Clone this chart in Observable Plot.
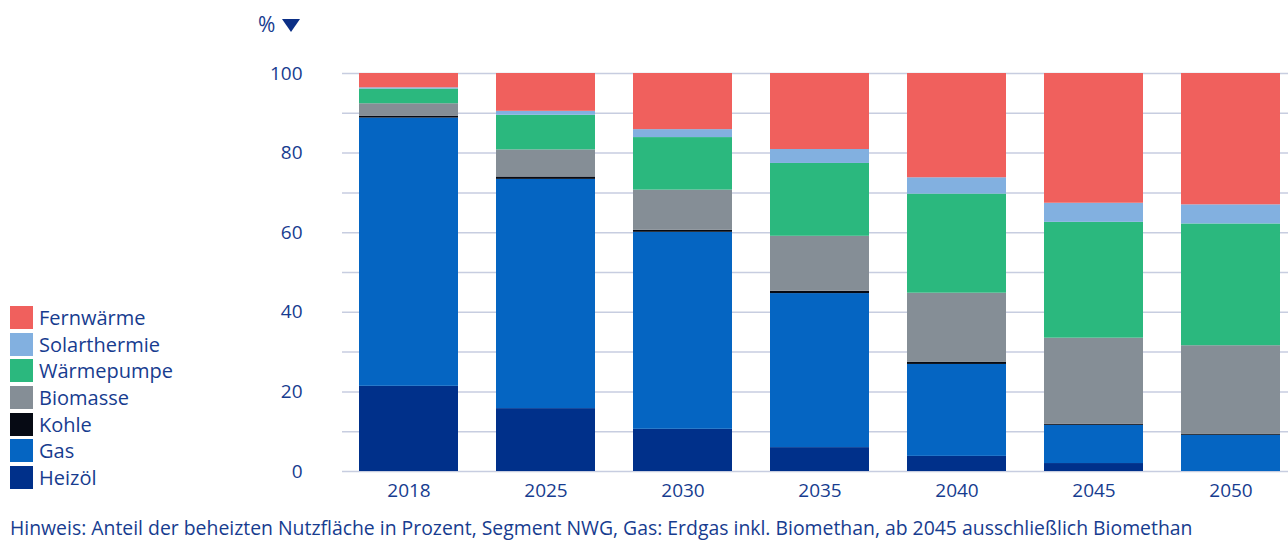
<!DOCTYPE html>
<html>
<head>
<meta charset="utf-8">
<script src="https://cdn.jsdelivr.net/npm/d3@7"></script>
<script src="https://cdn.jsdelivr.net/npm/@observablehq/plot@0.6"></script>
<style>
  html, body { margin: 0; padding: 0; background: #fff; }
  body { font-family: "Open Sans", sans-serif; color: #173c8f; }
  #wrap { position: relative; width: 1288px; height: 542px; overflow: hidden; }
  #unit { position: absolute; left: 258px; top: 10px; font-size: 21px; line-height: 28px; display: flex; align-items: center; }
  #tri { width: 0; height: 0; border-left: 9px solid transparent; border-right: 9px solid transparent; border-top: 13px solid #0b2f86; margin-left: 7px; margin-top: 2px; }
  #legend { position: absolute; left: 10px; top: 304px; font-size: 20px; }
  .row { display: flex; align-items: center; height: 26.7px; }
  .sw { width: 23px; height: 23px; margin-right: 6px; }
  #note { position: absolute; left: 10px; top: 515px; font-size: 19.4px; line-height: 26px; white-space: nowrap; }
  #chart { position: absolute; left: 0; top: 0; }
</style>
</head>
<body>
<div id="wrap">
  <div id="chart"></div>
  <div id="unit"><span>%</span><div id="tri"></div></div>
  <div id="legend"></div>
  <div id="note">Hinweis: Anteil der beheizten Nutzfläche in Prozent, Segment NWG, Gas: Erdgas inkl. Biomethan, ab 2045 ausschließlich Biomethan</div>
</div>
<script>
const years = ["2018", "2025", "2030", "2035", "2040", "2045", "2050"];
const seriesNames = ["Heizöl", "Gas", "Kohle", "Biomasse", "Wärmepumpe", "Solarthermie", "Fernwärme"];
const seriesColors = ["#00308a", "#0565c2", "#060a14", "#858e96", "#2bb87e", "#82b0e0", "#f0605d"];
const heizoel      = [21.4, 15.8, 10.6, 6.0, 3.8, 2.0, 0.0];
const gas          = [67.4, 57.6, 49.5, 38.7, 23.1, 9.6, 9.1];
const kohle        = [0.5, 0.6, 0.5, 0.6, 0.5, 0.3, 0.3];
const biomasse     = [3.1, 6.8, 10.1, 13.8, 17.4, 21.6, 22.2];
const waermepumpe  = [3.7, 8.7, 13.2, 18.3, 24.9, 29.1, 30.6];
const solarthermie = [0.3, 1.0, 2.0, 3.5, 4.1, 4.8, 4.8];
const fernwaerme   = [3.6, 9.5, 14.1, 19.1, 26.2, 32.6, 33.0];
const yTicks = [0, 20, 40, 60, 80, 100];
const gridTicks = [0, 10, 20, 30, 40, 50, 60, 70, 80, 90, 100];

const seriesValues = [heizoel, gas, kohle, biomasse, waermepumpe, solarthermie, fernwaerme];
const data = [];
seriesNames.forEach((s, i) => {
  years.forEach((y, j) => data.push({year: y, series: s, value: seriesValues[i][j]}));
});

const textColor = "#173c8f";
const chart = Plot.plot({
  width: 1288,
  height: 510,
  marginLeft: 342,
  marginRight: 0,
  marginTop: 73,
  marginBottom: 39,
  style: {fontFamily: "Open Sans, sans-serif", fontSize: "19px", color: textColor, background: "transparent"},
  x: {domain: years, paddingInner: 0.279, paddingOuter: 0.086, align: 0.68, label: null},
  y: {domain: [0, 100], label: null},
  color: {domain: seriesNames, range: seriesColors},
  marks: [
    Plot.ruleY(gridTicks, {stroke: "#c7cde0", strokeWidth: 1.5}),
    Plot.barY(data, {x: "year", y: "value", fill: "series", order: seriesNames}),
    Plot.axisY({ticks: yTicks, tickSize: 0, tickPadding: 40, fontSize: 19, label: null, fill: textColor}),
    Plot.axisX({tickSize: 0, tickPadding: 12, fontSize: 19, label: null, fill: textColor})
  ]
});
document.getElementById("chart").appendChild(chart);

const legend = document.getElementById("legend");
for (let i = seriesNames.length - 1; i >= 0; i--) {
  const row = document.createElement("div");
  row.className = "row";
  row.innerHTML = `<div class="sw" style="background:${seriesColors[i]}"></div><span>${seriesNames[i]}</span>`;
  legend.appendChild(row);
}
</script>
</body>
</html>
